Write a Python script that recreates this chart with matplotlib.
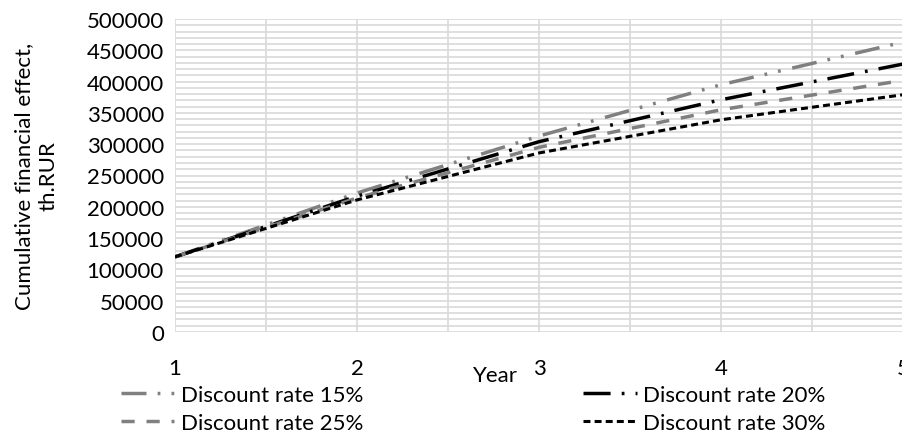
import matplotlib.pyplot as plt
from matplotlib.ticker import MultipleLocator

plt.rcParams['font.family'] = ['Lato', 'DejaVu Sans']
plt.rcParams['lines.scale_dashes'] = False

# data
years = [1, 2, 3, 4, 5]
rate_15 = [120000, 222000, 313000, 395000, 463000]
rate_20 = [120000, 217000, 304000, 371000, 428000]
rate_25 = [120000, 214000, 295000, 355000, 402000]
rate_30 = [120000, 211000, 286000, 339000, 379000]

W, H = 902, 439
fig = plt.figure(figsize=(W / 100, H / 100), dpi=100)
ax = fig.add_axes([175 / W, (H - 333) / H, 728 / W, 313 / H])

gray = '#808080'
l15, = ax.plot(years, rate_15, color=gray, lw=2.5, dashes=(18, 8, 2, 8, 2, 8.5),
               label='Discount rate 15%')
l20, = ax.plot(years, rate_20, color='black', lw=2.5, dashes=(19.5, 8, 2, 8),
               label='Discount rate 20%')
l25, = ax.plot(years, rate_25, color=gray, lw=2.5, dashes=(9.5, 8.5),
               label='Discount rate 25%')
l30, = ax.plot(years, rate_30, color='black', lw=2.2, dashes=(5, 3),
               label='Discount rate 30%')

ax.set_xlim(1, 5)
ax.set_ylim(0, 500000)
ax.xaxis.set_major_locator(MultipleLocator(1))
ax.xaxis.set_minor_locator(MultipleLocator(0.5))
ax.yaxis.set_major_locator(MultipleLocator(50000))
ax.yaxis.set_minor_locator(MultipleLocator(10000))
ax.grid(True, which='both', color='#d9d9d9', lw=1.2)
ax.set_axisbelow(True)
for s in ax.spines.values():
    s.set_visible(False)
ax.tick_params(which='both', length=0, labelsize=16)
ax.tick_params(axis='x', pad=19)
ax.tick_params(axis='y', pad=8)

fig.text(495 / W, 1 - 376 / H, 'Year', fontsize=16, ha='center', va='center')
fig.text(36 / W, 1 - 176 / H, 'Cumulative financial effect,\nth.RUR', fontsize=16,
         rotation=90, ha='center', va='center', multialignment='center',
         linespacing=1.3)

fig.legend([l15, l25, l20, l30],
           [l15.get_label(), l25.get_label(), l20.get_label(), l30.get_label()],
           ncol=2, loc='upper left', bbox_to_anchor=(110 / W, 1 - 375 / H),
           frameon=False, fontsize=16, handlelength=2.4, handletextpad=0.3,
           labelspacing=0.35, columnspacing=9.9, borderpad=0)

fig.savefig('out.png', dpi=100)
